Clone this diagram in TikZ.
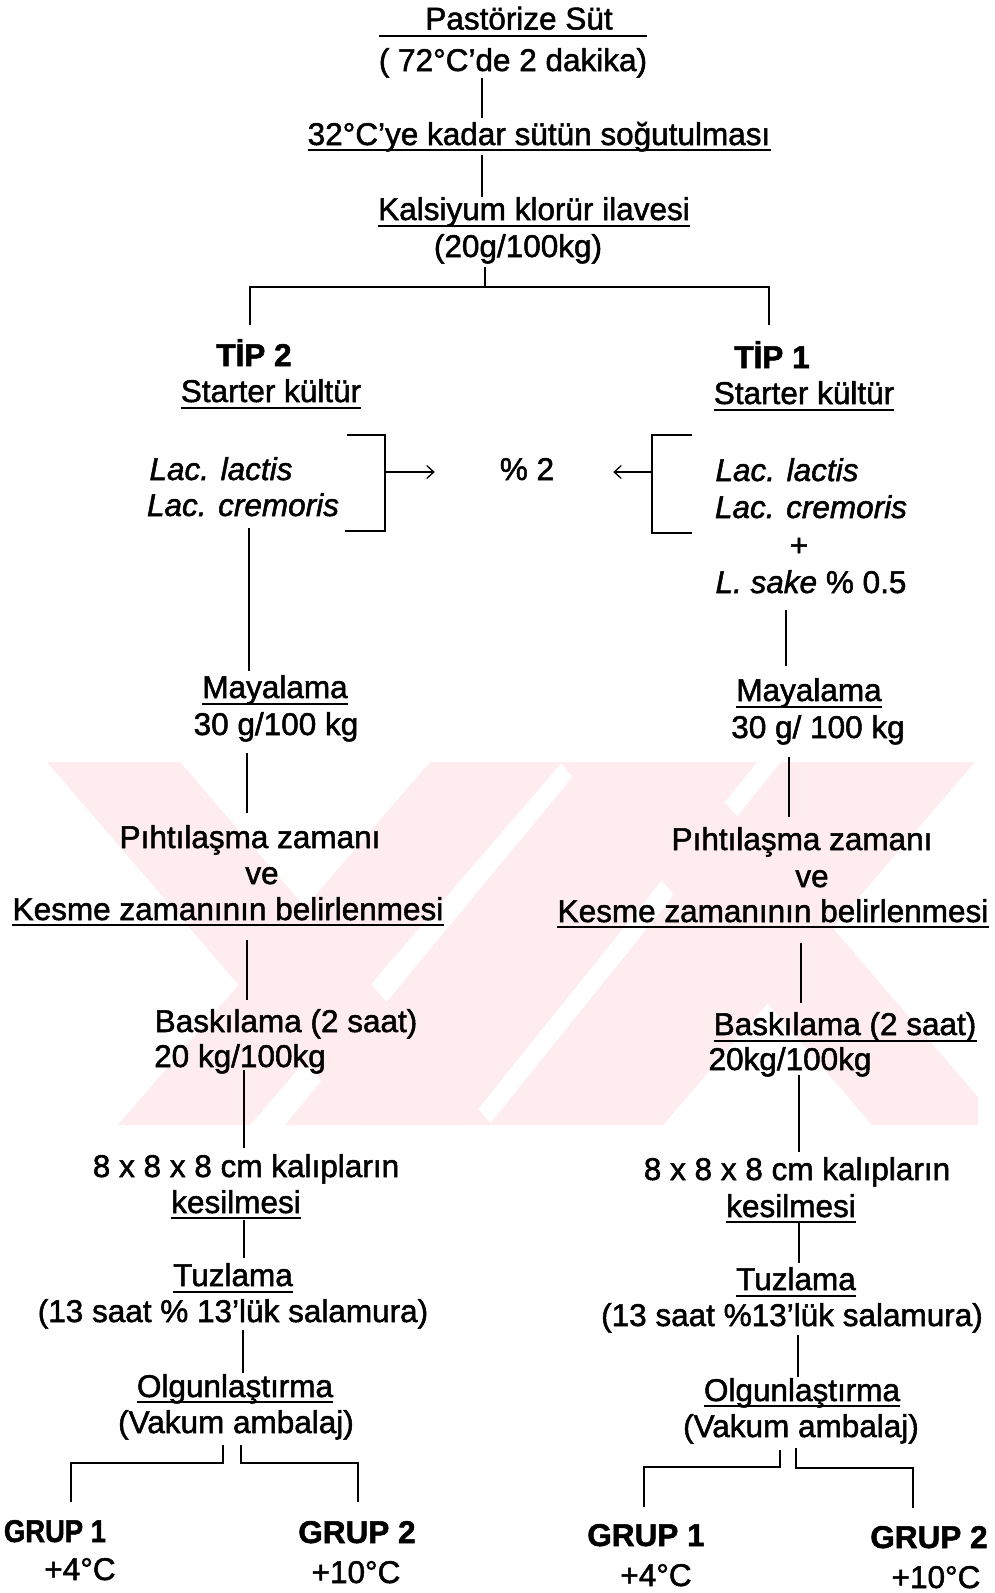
\documentclass[tikz,border=0pt]{standalone}
\usepackage{fontspec}
\setmainfont{Liberation Sans}[FakeBold=1.6]
\usetikzlibrary{arrows.meta}
\definecolor{wmpink}{RGB}{254,236,238}
\tikzset{
  txt/.style={inner sep=0pt, anchor=base, font=\fontsize{31.5}{37}\selectfont},
  btxt/.style={txt, font=\fontsize{31.5}{37}\selectfont\bfseries},
  itxt/.style={txt, font=\fontsize{31.5}{37}\selectfont\itshape},
  ln/.style={line width=2.4pt},
  ulin/.style={line width=2pt},
  arr/.style={line width=1.3pt, -{Straight Barb[length=7pt,width=13pt]}},
  wm/.style={fill=wmpink, draw=none}
}
\begin{document}
\begin{tikzpicture}[x=1pt,y=-1pt]
\useasboundingbox (0,0) rectangle (994,1593);
\fill[white] (0,0) rectangle (994,1593);
% watermark
\begin{scope}
\clip (40,762) rectangle (978,1125);
\fill[wm] (47,762) -- (180,762) -- (492,1125) -- (359,1125) -- cycle;
\fill[wm] (560,762) -- (690,762) -- (1002,1125) -- (872,1125) -- cycle;
\fill[wm] (430,762) -- (562,762) -- (250,1125) -- (118,1125) -- cycle;
\fill[wm] (585,762) -- (757,762) -- (465,1125) -- (285,1125) -- cycle;
\fill[wm] (781,762) -- (975,762) -- (663,1125) -- (489,1125) -- cycle;
\end{scope}

% top
\node[txt] (p1) at (519,29.5) {Pastörize Süt};
\node[txt] (p2) at (513,71) {( 72°C’de 2 dakika)};
\node[txt] (c1) at (539,145) {32°C’ye kadar sütün soğutulması};
\node[txt] (k1) at (534,220) {Kalsiyum klorür ilavesi};
\node[txt] (k2) at (518,257) {(20g/100kg)};

\coordinate (u1) at ([yshift=-6pt]p1.base);
\draw[ulin] (u1 -| p2.west) -- (u1 -| p2.east);
\draw[ulin] ([yshift=-5pt]c1.base west) -- ([yshift=-5pt]c1.base east);
\draw[ulin] ([yshift=-6pt]k1.base west) -- ([yshift=-6pt]k1.base east);

\coordinate (xT) at (482,0);
\coordinate (jn) at (485,287);
\coordinate (bl) at (250,287);
\coordinate (br) at (769,287);
\draw[ln, shorten <=7pt, shorten >=27pt] (p2.base -| xT) -- (c1.base -| xT);
\draw[ln, shorten <=10pt, shorten >=23pt] (c1.base -| xT) -- (k1.base -| xT);
\draw[ln, shorten <=10pt] (k2.base -| jn) -- (jn);

% types
\node[btxt] (t2) at (254,366) {TİP 2};
\node[txt] (s2) at (271,402) {Starter kültür};
\node[btxt] (t1) at (772,368) {TİP 1};
\node[txt] (s1) at (804,404) {Starter kültür};
\draw[ulin] ([yshift=-6pt]s2.base west) -- ([yshift=-6pt]s2.base east);
\draw[ulin] ([yshift=-6pt]s1.base west) -- ([yshift=-6pt]s1.base east);
\draw[ln, shorten <=41pt, shorten >=43pt] (bl |- t2.base) -- (bl) -- (br) -- (br |- t1.base);

% cultures
\node[itxt] (l2a) at (221,480) {Lac. lactis};
\node[itxt] (l2b) at (243,516) {Lac. cremoris};
\node[txt] (pct) at (527,480) {\% 2};
\node[itxt] (l1a) at (787,481) {Lac. lactis};
\node[itxt] (l1b) at (811,518) {Lac. cremoris};
\node[txt] (plus) at (799,556) {+};
\node[txt] (ls) at (811,593) {\textit{L. sake} \% 0.5};

\coordinate (lb1) at (347,435);
\coordinate (lb2) at (385,435);
\coordinate (lb3) at (385,531);
\coordinate (lb4) at (345,531);
\coordinate (lbm) at (385,472);
\draw[ln] (lb1) -- (lb2) -- (lb3) -- (lb4);
\draw[arr, shorten >=65pt] (lbm) -- (lbm -| pct.west);
\coordinate (rb1) at (692,435);
\coordinate (rb2) at (652,435);
\coordinate (rb3) at (652,533);
\coordinate (rb4) at (692,533);
\coordinate (rbm) at (652,472);
\draw[ln] (rb1) -- (rb2) -- (rb3) -- (rb4);
\draw[arr, shorten >=59pt] (rbm) -- (rbm -| pct.east);

% Mayalama
\node[txt] (m2) at (275,698) {Mayalama};
\node[txt] (m2b) at (276,735) {30 g/100 kg};
\node[txt] (m1) at (809,701) {Mayalama};
\node[txt] (m1b) at (818,738) {30 g/ 100 kg};
\draw[ulin] ([yshift=-6pt]m2.base west) -- ([yshift=-6pt]m2.base east);
\draw[ulin] ([yshift=-6pt]m1.base west) -- ([yshift=-6pt]m1.base east);

\coordinate (xa) at (249,0);
\coordinate (xb) at (786,0);
\draw[ln, shorten <=12pt, shorten >=27pt] (l2b.base -| xa) -- (m2.base -| xa);
\draw[ln, shorten <=17pt, shorten >=35pt] (ls.base -| xb) -- (m1.base -| xb);

% Pihtilasma
\node[txt] (ph2) at (250,848) {Pıhtılaşma zamanı};
\node[txt] (ve2) at (262,884) {ve};
\node[txt] (ke2) at (228,920) {Kesme zamanının belirlenmesi};
\node[txt] (ph1) at (802,850) {Pıhtılaşma zamanı};
\node[txt] (ve1) at (812,887) {ve};
\node[txt] (ke1) at (773,922) {Kesme zamanının belirlenmesi};
\draw[ulin] ([yshift=-5pt]ke2.base west) -- ([yshift=-5pt]ke2.base east);
\draw[ulin] ([yshift=-5pt]ke1.base west) -- ([yshift=-5pt]ke1.base east);

\coordinate (xc) at (247,0);
\coordinate (xd) at (789,0);
\coordinate (xe) at (801,0);
\draw[ln, shorten <=18pt, shorten >=35pt] (m2b.base -| xc) -- (ph2.base -| xc);
\draw[ln, shorten <=19pt, shorten >=33pt] (m1b.base -| xd) -- (ph1.base -| xd);

% Baskilama
\node[txt] (b2) at (286,1032) {Baskılama (2 saat)};
\node[txt] (b2b) at (240,1067) {20 kg/100kg};
\node[txt] (b1) at (845,1035) {Baskılama (2 saat)};
\node[txt] (b1b) at (790,1070) {20kg/100kg};
\draw[ulin] ([yshift=-6pt]b1.base west) -- ([yshift=-6pt]b1.base east);
\draw[ln, shorten <=20pt, shorten >=32pt] (ke2.base -| xc) -- (b2.base -| xc);
\draw[ln, shorten <=21pt, shorten >=32pt] (ke1.base -| xe) -- (b1.base -| xe);

% kaliplar
\node[txt] (e2) at (246,1177) {8 x 8 x 8 cm kalıpların};
\node[txt] (e2b) at (236,1213) {kesilmesi};
\node[txt] (e1) at (797,1180) {8 x 8 x 8 cm kalıpların};
\node[txt] (e1b) at (791,1217) {kesilmesi};
\draw[ulin] ([yshift=-5pt]e2b.base west) -- ([yshift=-5pt]e2b.base east);
\draw[ulin] ([yshift=-5pt]e1b.base west) -- ([yshift=-5pt]e1b.base east);

\coordinate (xf) at (244,0);
\coordinate (xg) at (799,0);
\draw[ln, shorten <=3pt, shorten >=29pt] (b2b.base -| xf) -- (e2.base -| xf);
\draw[ln, shorten <=5pt, shorten >=28pt] (b1b.base -| xg) -- (e1.base -| xg);

% Tuzlama
\node[txt] (tz2) at (233,1286) {Tuzlama};
\node[txt] (tz2b) at (233,1322) {(13 saat \% 13’lük salamura)};
\node[txt] (tz1) at (796,1290) {Tuzlama};
\node[txt] (tz1b) at (792,1326) {(13 saat \%13’lük salamura)};
\draw[ulin] ([yshift=-6pt]tz2.base west) -- ([yshift=-6pt]tz2.base east);
\draw[ulin] ([yshift=-6pt]tz1.base west) -- ([yshift=-6pt]tz1.base east);
\draw[ln, shorten <=7pt, shorten >=28pt] (e2b.base -| xf) -- (tz2.base -| xf);
\draw[ln, shorten <=6pt, shorten >=27pt] (e1b.base -| xg) -- (tz1.base -| xg);

% Olgunlastirma
\node[txt] (o2) at (235,1397) {Olgunlaştırma};
\node[txt] (o2b) at (236,1433) {(Vakum ambalaj)};
\node[txt] (o1) at (802,1401) {Olgunlaştırma};
\node[txt] (o1b) at (801,1437) {(Vakum ambalaj)};
\draw[ulin] ([yshift=-5pt]o2.base west) -- ([yshift=-5pt]o2.base east);
\draw[ulin] ([yshift=-5pt]o1.base west) -- ([yshift=-5pt]o1.base east);
\coordinate (xh) at (243,0);
\coordinate (xi) at (798,0);
\draw[ln, shorten <=8pt, shorten >=24pt] (tz2b.base -| xh) -- (o2.base -| xh);
\draw[ln, shorten <=9pt, shorten >=24pt] (tz1b.base -| xi) -- (o1.base -| xi);

% groups
\node[btxt] (g21) at (55,1542) {\scalebox{0.87}[1]{GRUP 1}};
\node[txt] (g21t) at (80,1580) {+4°C};
\node[btxt] (g22) at (357,1543) {GRUP 2};
\node[txt] (g22t) at (356,1583) {+10°C};
\node[btxt] (g11) at (646,1546) {GRUP 1};
\node[txt] (g11t) at (656,1586) {+4°C};
\node[btxt] (g12) at (929,1548) {GRUP 2};
\node[txt] (g12t) at (936,1588) {+10°C};

\coordinate (sa) at (223,1463);
\coordinate (sb) at (71,1463);
\coordinate (sc) at (241,1463);
\coordinate (sd) at (358,1463);
\draw[ln, shorten <=12pt, shorten >=40pt] (o2b.base -| sa) -- (sa) -- (sb) -- (sb |- g21.base);
\draw[ln, shorten <=12pt, shorten >=41pt] (o2b.base -| sc) -- (sc) -- (sd) -- (sd |- g22.base);
\coordinate (ra) at (780,1467);
\coordinate (rbb) at (644,1467);
\coordinate (rc) at (796,1468);
\coordinate (rd) at (913,1468);
\draw[ln, shorten <=13pt, shorten >=39pt] (o1b.base -| ra) -- (ra) -- (rbb) -- (rbb |- g11.base);
\draw[ln, shorten <=11pt, shorten >=40pt] (o1b.base -| rc) -- (rc) -- (rd) -- (rd |- g12.base);
\end{tikzpicture}
\end{document}
